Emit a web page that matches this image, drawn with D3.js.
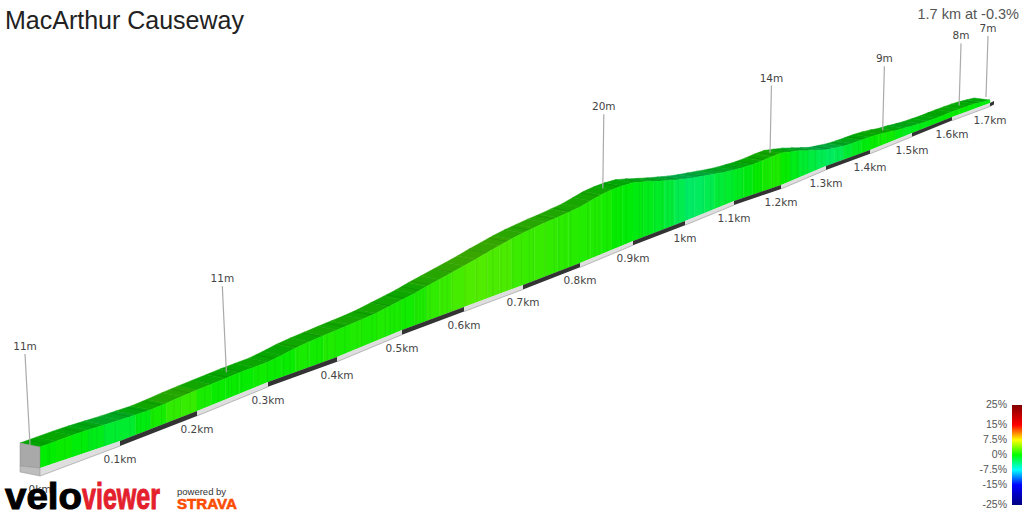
<!DOCTYPE html>
<html>
<head>
<meta charset="utf-8">
<style>
  html, body { margin: 0; padding: 0; background: #fff; }
  svg { display: block; }
  text { font-family: "Liberation Sans", Arial, sans-serif; }
  .km-label, .pin-label { font-family: "DejaVu Sans", Verdana, sans-serif; font-size: 10.5px; fill: #444; text-anchor: middle; }
</style>
<script src="https://cdn.jsdelivr.net/npm/d3@7/dist/d3.min.js"></script>
</head>
<body>
<div id="chart"></div>
<script>
// distance marks along the road and where they land on the screen
let markKm = [0, 0.1, 0.2, 0.3, 0.4, 0.5, 0.6, 0.7, 0.8, 0.9, 1, 1.1, 1.2, 1.3, 1.4, 1.5, 1.6, 1.7, 1.71]
let markLabels = ['0km', '0.1km', '0.2km', '0.3km', '0.4km', '0.5km', '0.6km', '0.7km', '0.8km', '0.9km', '1km', '1.1km', '1.2km', '1.3km', '1.4km', '1.5km', '1.6km', '1.7km']
let roadX = [40, 120, 197, 268, 337, 402, 464, 523, 580, 633, 685, 734, 781, 826, 870, 912, 952, 990, 994]
let roadY = [468, 441, 411, 382, 357, 330, 307, 285, 263, 241, 221, 201, 185, 166, 150, 133, 117, 103, 101]

// elevation in metres, one value every 0.02 km
let elevation = [
  11.1, 11.2, 11.3, 11.3, 11.2, 11.1, 10.9, 10.7, 10.8, 11.0,
  11.1, 11.1, 11.1, 11.1, 11.0, 10.9, 11.3, 11.8, 12.1, 12.3,
  12.5, 12.5, 12.5, 12.6, 12.9, 13.2, 13.6, 14.2, 14.7, 15.2,
  15.7, 16.2, 16.8, 17.3, 17.8, 18.2, 18.4, 18.6, 18.7, 18.9,
  19.1, 19.5, 19.9, 20.0, 19.9, 19.6, 18.9, 18.1, 17.3, 16.6,
  15.9, 15.3, 14.8, 14.3, 13.8, 13.4, 13.3, 13.2, 13.3, 13.5,
  13.6, 13.0, 12.4, 11.6, 10.8, 10.0, 9.7, 9.4, 9.3, 9.3,
  9.3, 9.1, 8.8, 8.4, 8.2, 7.9, 7.7, 7.6, 7.5, 7.5,
  7.5, 7.5, 7.5, 7.4, 7.2, 7.0
]

// gradient in percent for each stretch between two elevation samples
let gradient = [
  0.0, 0.3, -0.3, -0.8, -1.5, -1.5, -0.5, 0.7, 1.5, 1.7,
  0.8, 0.3, 0.3, 0.2, 0.5, 0.3, 0.3, 0.8, 0.6, 1.0,
  0.8, 1.0, 0.8, 1.0, 0.8, 0.6, 0.9, 1.5, 1.8, 2.2,
  2.5, 2.6, 2.4, 2.4, 1.9, 1.8, 1.8, 1.6, 1.4, 1.2,
  1.1, 1.0, 0.7, 0.2, -0.2, -0.5, -0.8, -1.2, -1.8, -2.5,
  -3.2, -3.0, -2.5, -1.8, -1.4, -1.0, -0.5, 0.2, 0.7, 0.9,
  0.2, -0.8, -1.5, -2.0, -2.6, -3.0, -2.6, -1.6, -1.0, -0.4,
  0.2, 0.5, 0.4, -0.5, -1.0, -0.8, -0.6, -0.4, -0.2, 0.1,
  0.3, 0.2, 0.0, -0.3, -0.3
]

// the joins between road sections that show as thin lines on the wall
let joinKm = [
  0.01, 0.012, 0.031, 0.052, 0.061, 0.065, 0.071, 0.081, 0.094, 0.113, 0.122, 0.127, 0.134, 0.139, 0.143, 0.154, 0.17, 0.179,
  0.191, 0.211, 0.23, 0.244, 0.249, 0.256, 0.263, 0.286, 0.299, 0.31, 0.323, 0.332, 0.343, 0.357, 0.371, 0.378, 0.386, 0.397, 0.412,
  0.431, 0.438, 0.454, 0.461, 0.474, 0.482, 0.488, 0.497, 0.505, 0.521, 0.524, 0.529, 0.534, 0.539, 0.545, 0.565, 0.573, 0.581, 0.602, 0.622, 0.639,
  0.649, 0.663, 0.673, 0.683, 0.697, 0.711, 0.718, 0.739, 0.755, 0.763, 0.774, 0.784, 0.815, 0.828, 0.836, 0.851,
  0.868, 0.877, 0.887, 0.912, 0.919, 0.929, 0.942, 0.956, 0.967, 0.975, 0.987, 1.004, 1.016, 1.037, 1.053, 1.069, 1.081, 1.096,
  1.108, 1.117, 1.126, 1.134, 1.143, 1.151, 1.157, 1.166, 1.172, 1.181, 1.189, 1.198, 1.211, 1.222, 1.236, 1.249, 1.26, 1.276, 1.291,
  1.309, 1.327, 1.339, 1.35, 1.361, 1.373, 1.386, 1.41, 1.425, 1.44, 1.46, 1.48, 1.5, 1.52, 1.55, 1.58, 1.61, 1.64, 1.67
]

// pins
let pinKm = [0, 0.255, 0.86, 1.195, 1.45, 1.64, 1.71]
let pinLabels = ['11m', '11m', '20m', '14m', '9m', '8m', '7m']
let pinHeights = [91, 86, 74, 67, 64, 61]
let pinHeightKm = [0, 0.26, 0.86, 1.2, 1.45, 1.71]

// colour key
let keyValues = [25, 15, 7.5, 0, -7.5, -15, -25]
let keyColors = ['#800000', '#ff0000', '#ffff00', '#00ff00', '#00ffff', '#0000ff', '#000080']
let keyLabels = ['25%', '15%', '7.5%', '0%', '-7.5%', '-15%', '-25%']

let width = 1024,
  height = 512

let svg = d3.select('#chart').append('svg')
  .attr('width', width)
  .attr('height', height)
  .attr('viewBox', '0 0 ' + width + ' ' + height)

let sampleKm = elevation.map(function (d, i) { return i * 0.02 })

// scales: the road is foreshortened so these are piecewise
let x = d3.scaleLinear().domain(markKm).range(roadX)
let y = d3.scaleLinear().domain(markKm).range(roadY)
let wall = d3.scaleLinear().domain([7, 20]).range([3, 60])
let elevationAt = d3.scaleLinear().domain(sampleKm).range(elevation).clamp(true)
let stripDepth = d3.scaleLinear().domain([0, 0.1, 1.71]).range([8, 5, 3.5])
let backX = d3.scaleLinear().domain([0, 1.71]).range([20, 16])
let backY = d3.scaleLinear().domain([0, 1.71]).range([4, 2])
let pinLength = d3.scaleLinear().domain(pinHeightKm).range(pinHeights)
let pinLean = d3.scaleLinear().domain([0, 0.26, 0.86, 1.71]).range([-5, -4, 1, 2])
let color = d3.scaleLinear().domain(keyValues).range(keyColors)
let keyY = d3.scaleLinear().domain([25, -25]).range([405, 505])

let topY = function (km) { return y(km) - wall(elevationAt(km)) }
let gradeAt = function (km) {
  return gradient[Math.min(Math.floor(km / 0.02), gradient.length - 1)]
}
let poly = d3.line()

// top of the ribbon
let segments = gradient.map(function (d, i) { return i })

svg.append('g').selectAll('.ribbon')
  .data(segments)
  .enter().append('path')
  .attr('class', 'ribbon')
  .attr('d', function (i) {
    let a = sampleKm[i], b = sampleKm[i + 1]
    return poly([
      [x(a), topY(a)],
      [x(b), topY(b)],
      [x(b) - backX(b), topY(b) - backY(b)],
      [x(a) - backX(a), topY(a) - backY(a)]
    ]) + 'Z'
  })
  .attr('fill', function (i) { return d3.rgb(color(gradient[i])).darker(1.2) })
  .attr('stroke', function (i) { return d3.rgb(color(gradient[i])).darker(1.2) })
  .attr('stroke-width', 0.5)

// section joins across the top, only every third one shows up there
svg.append('g').selectAll('.ribbon-join')
  .data(joinKm.filter(function (d, i) { return i % 3 === 0 }))
  .enter().append('line')
  .attr('class', 'ribbon-join')
  .attr('x1', function (d) { return x(d) })
  .attr('y1', function (d) { return topY(d) })
  .attr('x2', function (d) { return x(d) - backX(d) })
  .attr('y2', function (d) { return topY(d) - backY(d) })
  .attr('stroke', '#006000')
  .attr('stroke-opacity', 0.3)
  .attr('stroke-width', 0.8)

// side wall
svg.append('g').selectAll('.wall')
  .data(segments)
  .enter().append('path')
  .attr('class', 'wall')
  .attr('d', function (i) {
    let a = sampleKm[i], b = sampleKm[i + 1]
    return poly([
      [x(a), topY(a)],
      [x(b), topY(b)],
      [x(b), y(b)],
      [x(a), y(a)]
    ]) + 'Z'
  })
  .attr('fill', function (i) { return d3.rgb(color(gradient[i])).darker(0.22) })
  .attr('stroke', function (i) { return d3.rgb(color(gradient[i])).darker(0.22) })
  .attr('stroke-width', 0.4)

svg.append('g').selectAll('.wall-join')
  .data(joinKm)
  .enter().append('line')
  .attr('class', 'wall-join')
  .attr('x1', function (d) { return x(d) })
  .attr('y1', function (d) { return topY(d) })
  .attr('x2', function (d) { return x(d) })
  .attr('y2', function (d) { return y(d) })
  .attr('stroke', function (d) { return d3.rgb(color(gradeAt(d))).darker(1) })
  .attr('stroke-opacity', 0.3)
  .attr('stroke-width', 0.8)

// distance strip along the foot of the wall
let stripKm = markKm.slice(0, -1)

svg.append('g').selectAll('.strip')
  .data(stripKm)
  .enter().append('path')
  .attr('class', 'strip')
  .attr('d', function (d, i) {
    let b = markKm[i + 1]
    return poly([
      [x(d), y(d)],
      [x(b), y(b)],
      [x(b), y(b) + stripDepth(b)],
      [x(d), y(d) + stripDepth(d)]
    ]) + 'Z'
  })
  .attr('fill', function (d, i) { return i % 2 ? '#333' : '#dedede' })

svg.append('g').selectAll('.strip-edge')
  .data(stripKm.filter(function (d, i) { return i % 2 === 0 }))
  .enter().append('line')
  .attr('class', 'strip-edge')
  .attr('x1', function (d) { return x(d) })
  .attr('y1', function (d) { return y(d) + stripDepth(d) })
  .attr('x2', function (d) { return x(d + 0.1) })
  .attr('y2', function (d) { return y(d + 0.1) + stripDepth(d + 0.1) })
  .attr('stroke', '#aaa')
  .attr('stroke-width', 0.8)

// end face at the start of the road
let startFace = svg.append('g')
let faceBackX = x(0) - backX(0)
let faceBackY = y(0) - backY(0) + 2
startFace.append('path')
  .attr('d', poly([
    [x(0), topY(0)],
    [x(0), y(0)],
    [faceBackX, faceBackY],
    [faceBackX, topY(0) - backY(0)]
  ]) + 'Z')
  .attr('fill', '#a9a9a9')
  .attr('stroke', '#8f8f8f')
  .attr('stroke-width', 0.5)
startFace.append('path')
  .attr('d', poly([
    [x(0), y(0)],
    [x(0), y(0) + stripDepth(0)],
    [faceBackX, faceBackY + stripDepth(0) - 2],
    [faceBackX, faceBackY]
  ]) + 'Z')
  .attr('fill', '#bdbdbd')
  .attr('stroke', '#8f8f8f')
  .attr('stroke-width', 0.5)

// distance labels
svg.append('g').selectAll('.km-label')
  .data(markLabels)
  .enter().append('text')
  .attr('class', 'km-label')
  .attr('x', function (d, i) { return x(markKm[i]) })
  .attr('y', function (d, i) { return y(markKm[i]) + stripDepth(markKm[i]) + 17 })
  .text(function (d) { return d })

// pins with elevation labels
let pinFootX = function (km) { return x(km) - backX(km) / 2 }
let pinFootY = function (km) { return topY(km) - backY(km) / 2 }

svg.append('g').selectAll('.pin')
  .data(pinKm)
  .enter().append('line')
  .attr('class', 'pin')
  .attr('x1', pinFootX)
  .attr('y1', pinFootY)
  .attr('x2', function (d) { return pinFootX(d) + pinLean(d) })
  .attr('y2', function (d) { return pinFootY(d) - pinLength(d) })
  .attr('stroke', '#aaa')
  .attr('stroke-width', 1.2)

svg.append('g').selectAll('.pin-label')
  .data(pinKm)
  .enter().append('text')
  .attr('class', 'pin-label')
  .attr('x', function (d) { return pinFootX(d) + pinLean(d) })
  .attr('y', function (d) { return pinFootY(d) - pinLength(d) - 4 })
  .text(function (d, i) { return pinLabels[i] })

// title
svg.append('text')
  .attr('x', 5)
  .attr('y', 29)
  .attr('font-size', 25)
  .attr('fill', '#222')
  .text('MacArthur Causeway')

svg.append('text')
  .attr('x', 1019)
  .attr('y', 19)
  .attr('text-anchor', 'end')
  .attr('font-size', 14.5)
  .attr('fill', '#555')
  .text('1.7 km at -0.3%')

// colour key
let defs = svg.append('defs')
let keyGradient = defs.append('linearGradient')
  .attr('id', 'key-gradient')
  .attr('x1', 0).attr('x2', 0).attr('y1', 0).attr('y2', 1)
keyGradient.selectAll('stop')
  .data(keyValues)
  .enter().append('stop')
  .attr('offset', function (d) { return (keyY(d) - keyY(25)) / (keyY(-25) - keyY(25)) })
  .attr('stop-color', function (d) { return color(d) })

svg.append('rect')
  .attr('x', 1012)
  .attr('y', keyY(25))
  .attr('width', 10)
  .attr('height', keyY(-25) - keyY(25))
  .attr('fill', 'url(#key-gradient)')

svg.append('g').selectAll('.key-label')
  .data(keyValues)
  .enter().append('text')
  .attr('class', 'key-label')
  .attr('x', 1007)
  .attr('y', function (d) { return keyY(d) + 3 })
  .attr('text-anchor', 'end')
  .attr('font-size', 10.5)
  .attr('fill', '#555')
  .text(function (d, i) { return keyLabels[i] })

// logos
svg.append('text')
  .attr('x', 5)
  .attr('y', 509)
  .attr('font-family', '"DejaVu Sans", sans-serif')
  .attr('font-weight', 700)
  .attr('font-size', 36)
  .attr('textLength', 77)
  .attr('lengthAdjust', 'spacingAndGlyphs')
  .attr('fill', '#000')
  .attr('stroke', '#000')
  .attr('stroke-width', 1)
  .text('velo')

svg.append('text')
  .attr('x', 82)
  .attr('y', 509)
  .attr('font-family', '"Liberation Sans", sans-serif')
  .attr('font-weight', 700)
  .attr('font-size', 36)
  .attr('textLength', 78)
  .attr('lengthAdjust', 'spacingAndGlyphs')
  .attr('fill', '#e3202c')
  .attr('stroke', '#e3202c')
  .attr('stroke-width', 1)
  .text('viewer')

svg.append('text')
  .attr('x', 177)
  .attr('y', 495)
  .attr('font-size', 9.5)
  .attr('fill', '#333')
  .text('powered by')

svg.append('text')
  .attr('x', 177)
  .attr('y', 509)
  .attr('font-size', 15)
  .attr('font-weight', 700)
  .attr('fill', '#fc4c02')
  .attr('stroke', '#fc4c02')
  .attr('stroke-width', 0.6)
  .attr('textLength', 60)
  .attr('lengthAdjust', 'spacingAndGlyphs')
  .text('STRAVA')
</script>
</body>
</html>
